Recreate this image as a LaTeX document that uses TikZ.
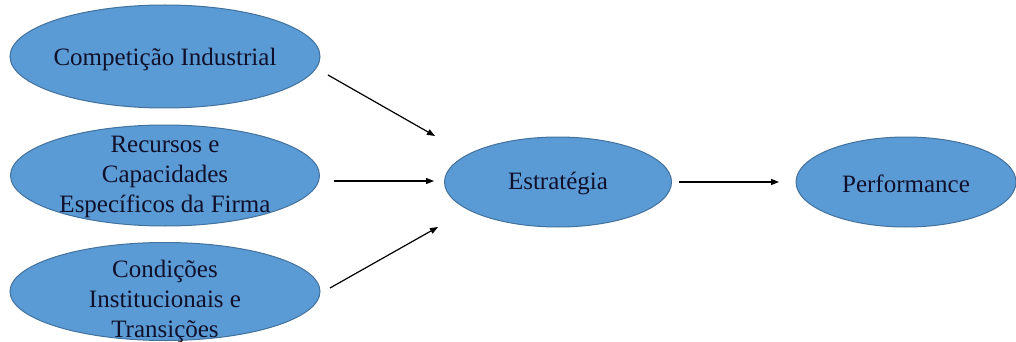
\documentclass[tikz,border=0pt]{standalone}
\usepackage{fontspec}
\setmainfont{Liberation Serif}
\usetikzlibrary{shapes.geometric,arrows.meta}
\definecolor{ellfill}{HTML}{5B9BD5}
\definecolor{elldraw}{HTML}{41719C}
\definecolor{txtcol}{HTML}{10102A}
\tikzset{
  ell/.style={ellipse, draw=elldraw, fill=ellfill, line width=1pt, inner sep=0pt},
  txt/.style={text=txtcol, font=\fontsize{25pt}{30pt}\selectfont, align=center, inner sep=0pt},
  arr/.style={draw=black, line width=1.2pt, -{Triangle[length=8pt,width=6pt]}}
}
\begin{document}
\begin{tikzpicture}[x=1pt,y=-1pt]
\useasboundingbox (0,0) rectangle (1016,342);
\node[ell, minimum width=310pt, minimum height=103pt] (comp) at (165,56.5) {};
\node[txt] (compt) at (165,59) {Competição Industrial};
\node[ell, minimum width=309pt, minimum height=101pt] (rec) at (165,175.5) {};
\node[txt] (rect) at (165,177) {Recursos e\\Capacidades\\Específicos da Firma};
\node[ell, minimum width=310pt, minimum height=98pt] (cond) at (165,291.5) {};
\node[txt] (condt) at (165,301) {Condições\\Institucionais e\\Transições};
\node[ell, minimum width=227pt, minimum height=90pt] (estr) at (558,182) {};
\node[txt] (estrt) at (558,184) {Estratégia};
\node[ell, minimum width=220pt, minimum height=90pt] (perf) at (906,182) {};
\node[txt] (perft) at (906,184) {Performance};
\coordinate (a1s) at (328,75);
\coordinate (a1e) at (435,136);
\coordinate (a2s) at (334,181);
\coordinate (a2e) at (434,181);
\coordinate (a3s) at (330,288);
\coordinate (a3e) at (438,227);
\coordinate (a4s) at (679,182);
\coordinate (a4e) at (779,182);
\draw[arr] (a1s) -- (a1e);
\draw[arr] (a2s) -- (a2e);
\draw[arr] (a3s) -- (a3e);
\draw[arr] (a4s) -- (a4e);
\end{tikzpicture}
\end{document}
